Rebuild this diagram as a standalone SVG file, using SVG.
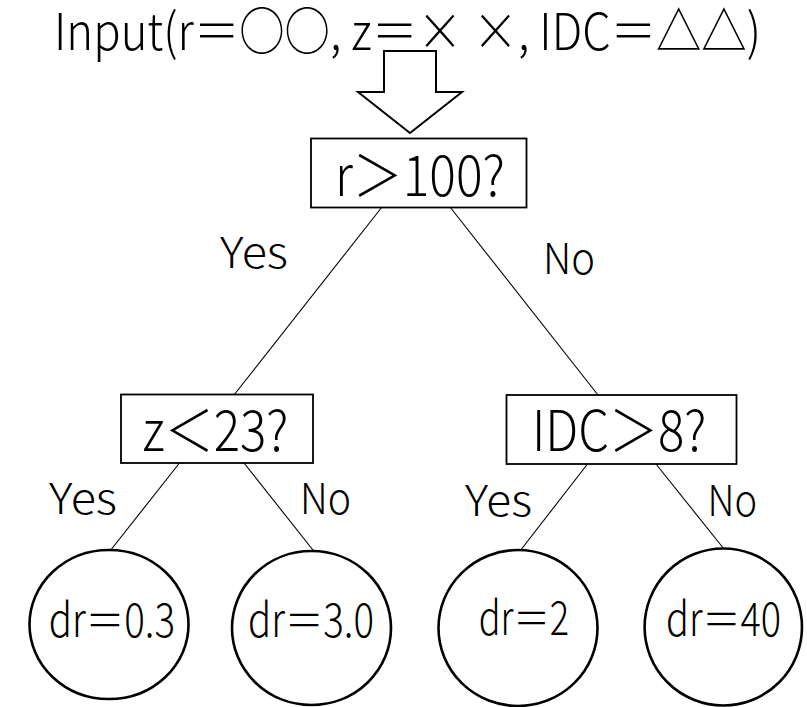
<svg xmlns="http://www.w3.org/2000/svg" width="807" height="707" viewBox="0 0 807 707">
  <style>
    text { font-family: "Noto Sans CJK JP", "Noto Sans", sans-serif; font-weight: 300; fill: #000; }
    .title { font-size: 51px; }
    .cond { font-size: 56px; }
    .branch { font-size: 43px; }
    .leaf { font-size: 46px; }
    .box { fill: #fff; stroke: #000; stroke-width: 1.8; }
    .leafshape { fill: #fff; stroke: #000; stroke-width: 2.6; }
    .edge { stroke: #000; stroke-width: 1.1; fill: none; }
    .arrow { fill: none; stroke: #000; stroke-width: 2; stroke-linejoin: miter; }
  </style>
  <rect width="807" height="707" fill="#fff"/>

  <g id="input">
    <polygon class="arrow" points="384,51 436,51 436,92 462,92 410,133 358,92 384,92"/>
    <text class="title" x="54" y="50" textLength="707" lengthAdjust="spacingAndGlyphs">Input(r＝○○, z＝× ×, IDC＝△△)</text>
  </g>

  <g id="connectors">
    <line class="edge" x1="382" y1="207" x2="234" y2="395"/>
    <line class="edge" x1="450" y1="207" x2="598" y2="395"/>
    <line class="edge" x1="179.5" y1="463" x2="110" y2="551"/>
    <line class="edge" x1="244" y1="463" x2="314.5" y2="552"/>
    <line class="edge" x1="587.5" y1="464" x2="520" y2="551"/>
    <line class="edge" x1="656" y1="464" x2="724" y2="549"/>
    <text class="branch" x="220" y="268" textLength="68" lengthAdjust="spacingAndGlyphs">Yes</text>
    <text class="branch" x="543" y="274" textLength="52" lengthAdjust="spacingAndGlyphs">No</text>
    <text class="branch" x="49" y="514" textLength="68" lengthAdjust="spacingAndGlyphs">Yes</text>
    <text class="branch" x="300" y="514" textLength="51" lengthAdjust="spacingAndGlyphs">No</text>
    <text class="branch" x="465" y="515.5" textLength="67" lengthAdjust="spacingAndGlyphs">Yes</text>
    <text class="branch" x="707.5" y="515.5" textLength="49.5" lengthAdjust="spacingAndGlyphs">No</text>
  </g>

  <g id="root">
    <rect class="box" x="311" y="138.5" width="215.5" height="69"/>
    <text class="cond" x="335" y="196" textLength="170" lengthAdjust="spacingAndGlyphs">r＞100?</text>
  </g>

  <g id="split-z">
    <rect class="box" x="121" y="394.5" width="192" height="68.5"/>
    <text class="cond" x="142.5" y="450.5" textLength="146" lengthAdjust="spacingAndGlyphs">z＜23?</text>
  </g>

  <g id="split-idc">
    <rect class="box" x="506.5" y="395" width="230" height="69"/>
    <text class="cond" x="532" y="451" textLength="174.5" lengthAdjust="spacingAndGlyphs">IDC＞8?</text>
  </g>

  <g id="leaf-1">
    <ellipse class="leafshape" cx="109" cy="624.5" rx="79.5" ry="74.5"/>
    <text class="leaf" x="48.7" y="636.7" textLength="126.3" lengthAdjust="spacingAndGlyphs">dr＝0.3</text>
  </g>

  <g id="leaf-2">
    <ellipse class="leafshape" cx="311.5" cy="628" rx="79.5" ry="77"/>
    <text class="leaf" x="248" y="636.7" textLength="126" lengthAdjust="spacingAndGlyphs">dr＝3.0</text>
  </g>

  <g id="leaf-3">
    <ellipse class="leafshape" cx="518" cy="628" rx="79.5" ry="78"/>
    <text class="leaf" x="478.7" y="634.6" textLength="90.3" lengthAdjust="spacingAndGlyphs">dr＝2</text>
  </g>

  <g id="leaf-4">
    <ellipse class="leafshape" cx="723.3" cy="627" rx="78.7" ry="78.5"/>
    <text class="leaf" x="666" y="636" textLength="115" lengthAdjust="spacingAndGlyphs">dr＝40</text>
  </g>
</svg>
